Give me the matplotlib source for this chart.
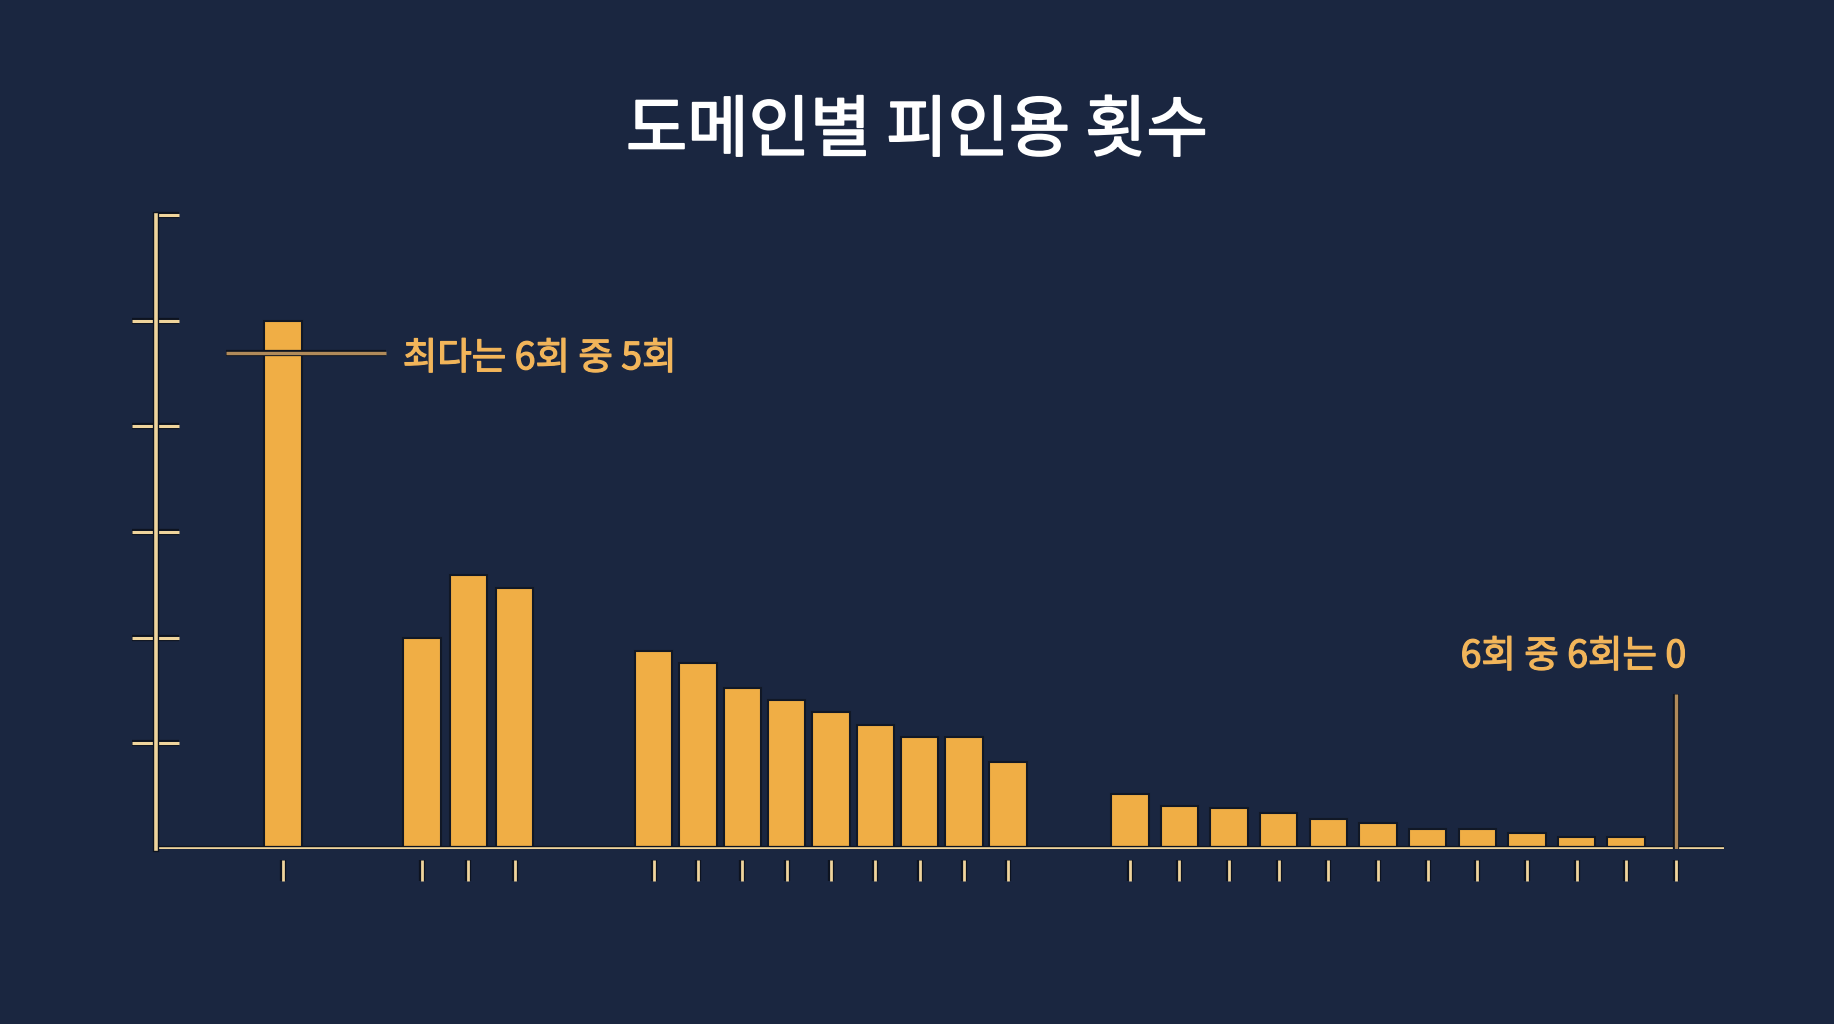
import matplotlib
matplotlib.use("Agg")
import matplotlib.pyplot as plt
import matplotlib.patheffects as pe
import numpy as np

plt.rcParams['font.family'] = ['Noto Sans CJK KR', 'DejaVu Sans']

# Werte je Gruppe (Höhe der Balken, Achse 0..6)
group_1 = [5.0]
group_2 = [2.0, 2.59, 2.47]
group_3 = [1.87, 1.76, 1.52, 1.41, 1.30, 1.17, 1.06, 1.06, 0.82]
group_4 = [0.52, 0.41, 0.39, 0.34, 0.28, 0.25, 0.19, 0.19, 0.15, 0.11, 0.11, 0.0]
groups = [group_1, group_2, group_3, group_4]

title = "도메인별 피인용 횟수"
note_max = "최다는 6회 중 5회"
note_zero = "6회 중 6회는 0"
y_ticks = [1, 2, 3, 4, 5]

# Layout: Start und Abstand je Gruppe
group_start = [0.0, 2.975, 7.925, 18.1]
group_step = [1.0, 0.9875, 0.947, 1.061]

bg = "#1a2640"
bar_color = "#f0ae45"
axis_color = "#efd49c"
note_line = "#b08a5a"
text_color = "#f2b55a"
outline = [pe.Stroke(linewidth=4.5, foreground="#0d1320"), pe.Normal()]

fig = plt.figure(figsize=(18.34, 10.24), dpi=100, facecolor=bg)
ax = fig.add_axes([0.0848, 0.1709, 0.940 - 0.0848, 0.790 - 0.1709])
ax.set_facecolor(bg)

x_all = []
for vals, start, step in zip(groups, group_start, group_step):
    xs = start + step * np.arange(len(vals))
    x_all.extend(xs)
    for x, v in zip(xs, vals):
        if v > 0:
            ax.bar(x, v, width=0.8, color=bar_color, edgecolor="#111826",
                   linewidth=1.5, zorder=3)

ax.set_xlim(-2.725, 30.8)
ax.set_ylim(0, 6)

# x-Achse als eigene Linie, Ticks etwas darunter
ax.axhline(0, color=axis_color, lw=2.6, zorder=4, path_effects=outline)
ax.spines['bottom'].set_visible(False)
ax.spines['bottom'].set_position(('outward', 8))
ax.spines['top'].set_visible(False)
ax.spines['right'].set_visible(False)
ax.spines['left'].set_color(axis_color)
ax.spines['left'].set_linewidth(2.6)
ax.spines['left'].set_bounds(0, 6)
ax.spines['left'].set_path_effects(outline)
ax.spines['left'].set_zorder(4)

ax.set_xticks(x_all)
ax.set_yticks(y_ticks)
ax.set_yticks([6], minor=True)
ax.tick_params(axis='x', direction='out', length=15, width=2.0,
               color=axis_color, labelbottom=False)
ax.tick_params(axis='y', which='major', direction='inout', length=34, width=2.2,
               color=axis_color, labelleft=False)
ax.tick_params(axis='y', which='minor', direction='in', length=17, width=2.2,
               color=axis_color, labelleft=False)
for t in ax.xaxis.get_major_ticks() + ax.yaxis.get_major_ticks() + ax.yaxis.get_minor_ticks():
    t.tick1line.set_path_effects(outline)

# etwas kräftigere Schrift (kein Medium-Schnitt installiert)
note_fx = [pe.withStroke(linewidth=0.9, foreground=text_color)]
title_fx = [pe.withStroke(linewidth=1.3, foreground="white")]

# Hinweis Maximum
y_note = 4.69
ax.plot([-1.225, 2.2], [y_note, y_note], color=note_line, lw=2.4, zorder=5,
        solid_capstyle='butt', path_effects=outline)
ax.text(2.56, y_note - 0.05, note_max, color=text_color, fontsize=27,
        ha='left', va='center', zorder=6, path_effects=note_fx)

# Hinweis Null
x_last = x_all[-1]
ax.plot([x_last, x_last], [0, 1.47], color=note_line, lw=2.4, zorder=5,
        solid_capstyle='butt', path_effects=outline)
ax.text(x_last + 0.225, 1.82, note_zero, color=text_color, fontsize=27,
        ha='right', va='center', zorder=6, path_effects=note_fx)

fig.text(0.5, 0.871, title, color="white", fontsize=48,
         ha='center', va='center', path_effects=title_fx)

fig.savefig("out.png", dpi=100, facecolor=bg)
